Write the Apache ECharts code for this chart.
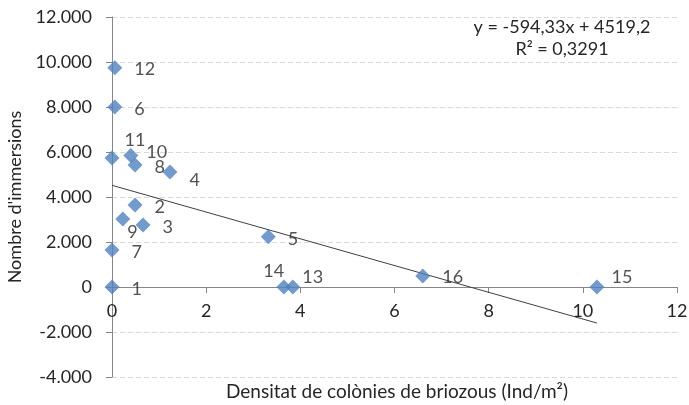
<!DOCTYPE html>
<html>
<head>
<meta charset="utf-8">
<script src="https://cdn.jsdelivr.net/npm/echarts@6/dist/echarts.min.js"></script>
<style>
  html, body { margin: 0; padding: 0; background: #fff; }
  #chart { width: 689px; height: 405px; }
</style>
</head>
<body>
<div id="chart"></div>
<script>
// punts (número d'estació, densitat, immersions)
const pointIds = [1, 2, 3, 4, 5, 6, 7, 8, 9, 10, 11, 12, 13, 14, 15, 16]
const densitat = [0, 0.49, 0.66, 1.23, 3.32, 0.06, 0, 0.49, 0.23, 0.40, 0, 0.06, 3.84, 3.65, 10.3, 6.6]
const immersions = [0, 3640, 2760, 5110, 2230, 8000, 1640, 5420, 3020, 5850, 5730, 9750, 0, 0, 0, 490]

// recta de tendència (Excel)
const slope = -594.33
const intercept = 4519.2
const equationLines = ['y = -594,33x + 4519,2', 'R² = 0,3291']

const yTicks = [-4000, -2000, 0, 2000, 4000, 6000, 8000, 10000, 12000]
const xTicks = [0, 2, 4, 6, 8, 10, 12]

// desplaçaments d'etiqueta moguts a mà
const labelShift = {
  4: [0, 8],
  9: [-15, 13],
  10: [-4, -3],
  11: [-7, -18],
  13: [-10, -10],
  14: [-40, -16],
  15: [-5, -10],
  16: [0, 1]
}

const fontFamily = 'Lato, "Noto Sans", sans-serif'
const textColor = '#262626'

// format amb punt de milers: 12000 -> 12.000
const fmtThousands = (v) => {
  const s = String(Math.abs(v)).replace(/\B(?=(\d{3})+(?!\d))/g, '.')
  return (v < 0 ? '-' : '') + s
}

const scatterData = pointIds.map((id, i) => {
  const item = { value: [densitat[i], immersions[i]], name: String(id) }
  if (labelShift[id]) {
    item.label = { offset: labelShift[id] }
  }
  return item
})

const xMax = Math.max(...densitat)
const trendData = [
  [0, intercept],
  [xMax, intercept + slope * xMax]
]

const gridTop = 17
const gridBottom = 28
const plotHeight = 405 - gridTop - gridBottom
const yMin = yTicks[0]
const yMax = yTicks[yTicks.length - 1]
// l'eix X creua a y = 0 (onZero no s'aplica aquí, el pugem amb offset)
const xAxisOffset = -plotHeight * (0 - yMin) / (yMax - yMin)

const chart = echarts.init(document.getElementById('chart'))

chart.setOption({
  animation: false,
  backgroundColor: '#fff',
  textStyle: { fontFamily: fontFamily },
  grid: { left: 112, right: 12, top: gridTop, bottom: gridBottom, containLabel: false, outerBoundsMode: 'none' },
  xAxis: {
    type: 'value',
    min: xTicks[0],
    max: xTicks[xTicks.length - 1],
    interval: 2,
    position: 'bottom',
    offset: xAxisOffset,
    axisLine: { show: true, onZero: false, lineStyle: { color: '#868686', width: 1 } },
    axisTick: { show: true, length: 6, lineStyle: { color: '#868686' } },
    axisLabel: { color: textColor, fontSize: 18, margin: 15, fontFamily: fontFamily },
    splitLine: { show: false }
  },
  yAxis: {
    type: 'value',
    min: yMin,
    max: yMax,
    interval: 2000,
    name: "Nombre d'immersions",
    nameLocation: 'middle',
    nameGap: 88,
    nameTextStyle: { color: textColor, fontSize: 18, fontFamily: fontFamily },
    axisLine: { show: true, onZero: false, lineStyle: { color: '#868686', width: 1 } },
    axisTick: { show: true, length: 6, lineStyle: { color: '#868686' } },
    axisLabel: { color: textColor, fontSize: 18, margin: 20, fontFamily: fontFamily, formatter: fmtThousands },
    splitLine: { show: true, lineStyle: { color: '#d9d9d9', type: [5, 3], width: 1 } }
  },
  graphic: [
    ...equationLines.map((t, i) => ({
      type: 'text',
      x: 562,
      y: 18 + i * 22,
      style: {
        text: t,
        fill: textColor,
        font: '18px ' + fontFamily,
        textAlign: 'center'
      }
    })),
    {
      type: 'text',
      x: 397,
      y: 382,
      style: {
        text: 'Densitat de colònies de briozous (Ind/m²)',
        fill: textColor,
        font: '19px ' + fontFamily,
        textAlign: 'center'
      }
    }
  ],
  series: [
    {
      name: 'tendència',
      type: 'line',
      data: trendData,
      symbol: 'none',
      silent: true,
      z: 1,
      lineStyle: { color: '#404040', width: 1 }
    },
    {
      name: 'estacions',
      type: 'scatter',
      data: scatterData,
      symbol: 'diamond',
      symbolSize: 15,
      z: 3,
      itemStyle: { color: '#4f81bd' },
      label: {
        show: true,
        position: 'right',
        distance: 12,
        offset: [0, 2],
        color: textColor,
        fontSize: 18,
        fontFamily: fontFamily,
        formatter: (p) => p.name
      }
    }
  ]
})

window.addEventListener('resize', () => chart.resize())
</script>
</body>
</html>
